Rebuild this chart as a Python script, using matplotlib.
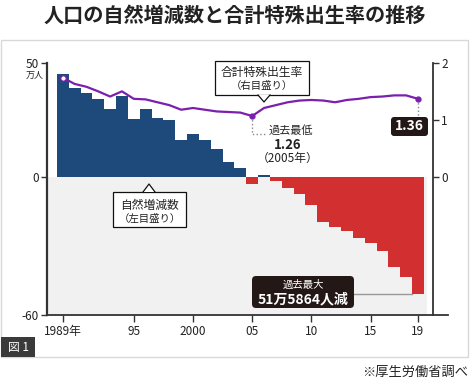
import matplotlib
matplotlib.use("Agg")
import matplotlib.pyplot as plt
import matplotlib.patches as patches

plt.rcParams['font.family'] = ['Noto Sans CJK JP', 'DejaVu Sans']

# data
years = list(range(1989, 2020))
natural = [45.1, 38.9, 36.9, 34.3, 29.6, 35.3, 25.3, 29.9, 26.0, 25.0,
           16.3, 18.8, 16.3, 12.3, 6.6, 4.1, -2.9, 1.2, -1.7, -4.7,
           -7.4, -12.0, -19.6, -21.5, -23.2, -26.3, -28.4, -32.3, -39.1, -43.5,
           -50.7]
tfr = [1.74, 1.63, 1.58, 1.50, 1.41, 1.50, 1.37, 1.36, 1.31, 1.26,
       1.18, 1.21, 1.18, 1.15, 1.14, 1.13, 1.07, 1.21, 1.26, 1.31,
       1.34, 1.35, 1.34, 1.31, 1.35, 1.37, 1.40, 1.41, 1.43, 1.43,
       1.37]
xticks = [1989, 1995, 2000, 2005, 2010, 2015, 2019]
xticklabels = ['1989年', '95', '2000', '05', '10', '15', '19']

W, H = 470, 382
BLUE = '#1e4a7b'
RED = '#d23030'
PURPLE = '#7b1fad'
DARK = '#231815'
INK = '#222222'


def P(x, y):
    # pixel position (from top-left) -> inches for dpi_scale_trans
    return x / 100., (H - y) / 100.


fig = plt.figure(figsize=(W / 100., H / 100.), dpi=100)
tr = fig.dpi_scale_trans

# panel frame
fig.patches.append(patches.Rectangle(P(1, 357), 467 / 100., 317 / 100., transform=tr,
                                     fill=False, edgecolor='#d9d9d9', lw=1))

fig.text(*P(235, 15), '人口の自然増減数と合計特殊出生率の推移', transform=tr,
         ha='center', va='center', fontsize=14.5, fontweight='bold', color=INK)

ax = fig.add_axes([47 / W, 1 - 315 / H, (433 - 47) / W, (315 - 62.7) / H])
x0, x1 = 1987.67, 2020.27
ax.set_xlim(x0, x1)
ax.set_ylim(-60, 50)

ax.fill_between([x0, 2019.75], -60, 0, color='#f1f1f1', lw=0, zorder=0)
ax.bar(years, natural, width=1.0, color=[BLUE if v > 0 else RED for v in natural],
       linewidth=0, zorder=2)

for s in ['top', 'right']:
    ax.spines[s].set_visible(False)
ax.spines['left'].set_linewidth(1.6)
ax.spines['left'].set_color('#333333')
ax.spines['bottom'].set_linewidth(1.3)
ax.spines['bottom'].set_color('#333333')
ax.spines['bottom'].set_bounds(x0, 2021.5)

ax.set_yticks([-60, 0, 50])
ax.set_yticklabels(['-60', '0', '50'])
ax.set_xticks(xticks)
ax.set_xticklabels(xticklabels)
ax.tick_params(axis='both', direction='out', length=4, width=1, color='#333333',
               labelsize=8.5, labelcolor=INK, pad=2)
ax.tick_params(axis='x', length=5)

ax2 = ax.twinx()
ax2.set_ylim(-2.4, 2)
ax2.set_xlim(x0, x1)
for s in ['top', 'left', 'bottom']:
    ax2.spines[s].set_visible(False)
ax2.spines['right'].set_linewidth(1.3)
ax2.spines['right'].set_color('#333333')
ax2.set_yticks([0, 1, 2])
ax2.set_yticklabels(['0', '1', '2'])
ax2.tick_params(axis='y', direction='out', length=4, width=1, color='#333333',
                labelsize=8.5, labelcolor=INK, pad=2)
ax2.patch.set_visible(False)

ax2.plot(years, tfr, color=PURPLE, lw=1.6, zorder=3)
ax2.plot(years[0], tfr[0], 'o', ms=4, mfc='white', mec=PURPLE, mew=1, zorder=4)
i05 = years.index(2005)
ax2.plot([years[i05], years[-1]], [tfr[i05], tfr[-1]], 'o', ms=3.5, color=PURPLE, zorder=4)

# 2005 minimum note
ax2.plot([2005, 2005, 2006.1], [tfr[i05], 0.75, 0.75], ls=':', color='#888888', lw=1, zorder=3)
fig.text(*P(291, 130), '過去最低', transform=tr, ha='center', va='center', fontsize=8, color=INK)
fig.text(*P(288, 145), '1.26', transform=tr, ha='center', va='center', fontsize=9.5,
         fontweight='bold', color=INK)
fig.text(*P(288, 158), '（2005年）', transform=tr, ha='center', va='center', fontsize=8.5, color=INK)

# 2019 value
ax2.plot([2019, 2019], [tfr[-1], 1.06], ls=':', color='#888888', lw=1, zorder=3)
fig.patches.append(patches.FancyBboxPatch(P(391, 136), 37 / 100., 19 / 100., transform=tr,
                                          boxstyle='round,pad=0,rounding_size=0.03',
                                          facecolor=DARK, edgecolor='none'))
fig.text(*P(409.5, 126.5), '1.36', transform=tr, ha='center', va='center', fontsize=10,
         fontweight='bold', color='white')

# record decrease note
ax.plot([2013.6, 2018.5], [natural[-1], natural[-1]], color='#999999', lw=1, zorder=1)
fig.patches.append(patches.FancyBboxPatch(P(252, 308), 102 / 100., 32 / 100., transform=tr,
                                          boxstyle='round,pad=0,rounding_size=0.04',
                                          facecolor=DARK, edgecolor='none'))
fig.text(*P(303, 285), '過去最大', transform=tr, ha='center', va='center', fontsize=7.5, color='white')
fig.text(*P(303, 299.5), '51万5864人減', transform=tr, ha='center', va='center', fontsize=10,
         fontweight='bold', color='white')


def callout(left, top, right, bottom, base, tip, lines, sizes, up=False):
    fig.patches.append(patches.Rectangle(P(left, bottom), (right - left) / 100., (bottom - top) / 100.,
                                         transform=tr, facecolor='white', edgecolor='#111111', lw=0.9))
    edge = top if up else bottom
    pts = [P(base[0], edge), P(*tip), P(base[1], edge)]
    fig.patches.append(patches.Polygon(pts, closed=True, transform=tr, facecolor='white',
                                       edgecolor='none'))
    fig.lines.append(plt.Line2D([p[0] for p in pts], [p[1] for p in pts], transform=tr,
                                color='#111111', lw=0.9))
    for (txt, y), fs in zip(lines, sizes):
        fig.text(*P((left + right) / 2., y), txt, transform=tr, ha='center', va='center',
                 fontsize=fs, color=INK)


callout(215, 61, 309, 95, (258, 270), (264, 102),
        [('合計特殊出生率', 72.5), ('（右目盛り）', 86)], [8.5, 7.5])
callout(113, 192, 186, 227, (143, 155), (149, 184),
        [('自然増減数', 205), ('（左目盛り）', 218.5)], [8.5, 7.5], up=True)

fig.text(*P(35, 75), '万人', transform=tr, ha='center', va='center', fontsize=6.5, color=INK)

# figure tag and source
fig.patches.append(patches.Rectangle(P(1, 357), 34 / 100., 20 / 100., transform=tr,
                                     facecolor='#3a3a3a', edgecolor='none'))
fig.text(*P(18, 347), '図 1', transform=tr, ha='center', va='center', fontsize=8.5, color='white')
fig.text(*P(468, 372), '※厚生労働省調べ', transform=tr, ha='right', va='center', fontsize=9.5, color=INK)

fig.savefig('out.png', dpi=100)
